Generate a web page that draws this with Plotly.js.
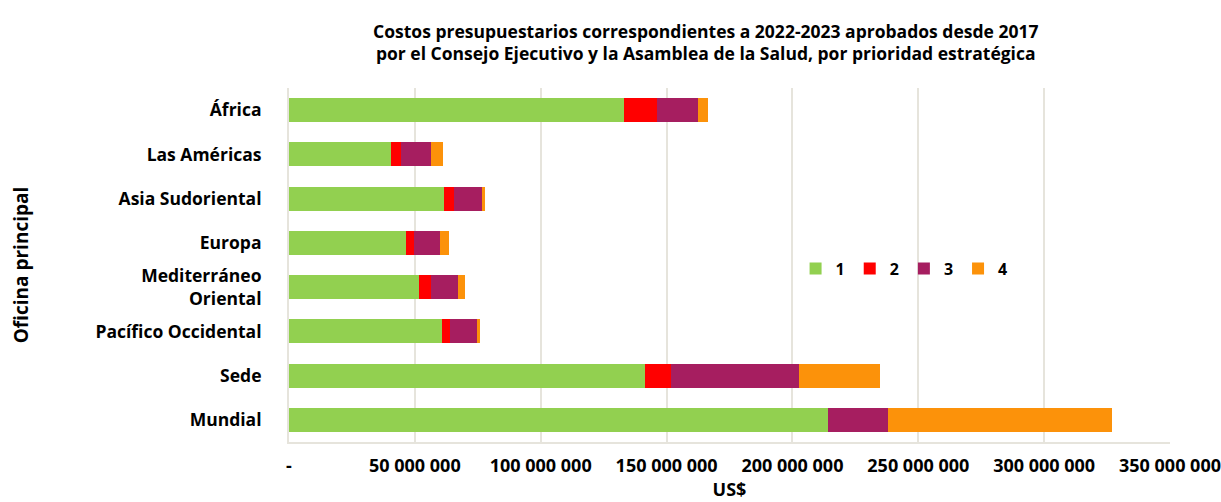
<!DOCTYPE html>
<html>
<head>
<meta charset="utf-8">
<script src="https://cdn.plot.ly/plotly-3.0.1.min.js"></script>
<style>html,body{margin:0;padding:0;background:#fff;}#chart{width:1221px;height:502px;}</style>
</head>
<body>
<div id="chart"></div>
<script>
const categories = ["África", "Las Américas", "Asia Sudoriental", "Europa", "Mediterráneo<br>Oriental", "Pacífico Occidental", "Sede", "Mundial"];
const prioridad1 = [133200000, 40700000, 61400000, 46300000, 51800000, 60700000, 141600000, 214300000];
const prioridad2 = [13000000, 3700000, 4200000, 3300000, 4800000, 3300000, 10200000, 0];
const prioridad3 = [16300000, 12100000, 11000000, 10400000, 10400000, 10500000, 50900000, 23500000];
const prioridad4 = [4100000, 4500000, 1200000, 3700000, 2900000, 1200000, 32100000, 89200000];
const seriesNames = ["1", "2", "3", "4"];
const tickVals = [0, 50000000, 100000000, 150000000, 200000000, 250000000, 300000000, 350000000];
const tickText = ["-", "50 000 000", "100 000 000", "150 000 000", "200 000 000", "250 000 000", "300 000 000", "350 000 000"];

const colors = ["#92D050", "#FF0000", "#A61E60", "#FC920A"];
const seriesData = [prioridad1, prioridad2, prioridad3, prioridad4];
const FONT = "'Open Sans', sans-serif";

const traces = seriesData.map((vals, i) => ({
  type: "bar",
  orientation: "h",
  name: seriesNames[i],
  y: categories,
  x: vals,
  marker: {color: colors[i], line: {width: 0}},
  hoverinfo: "x+name"
}));

const layout = {
  width: 1221, height: 502,
  barmode: "stack",
  bargap: 0.46,
  paper_bgcolor: "#fff", plot_bgcolor: "#fff",
  margin: {l: 289, r: 51, t: 88, b: 60},
  font: {family: FONT, color: "#000", size: 15},
  title: {
    text: "<b>Costos presupuestarios correspondientes a 2022-2023 aprobados desde 2017<br>por el Consejo Ejecutivo y la Asamblea de la Salud, por prioridad estratégica</b>",
    x: 0.578, xanchor: "center", y: 0.925, yanchor: "top",
    font: {family: FONT, size: 17.5, color: "#000"}
  },
  xaxis: {
    range: [0, 350000000],
    tickvals: tickVals, ticktext: tickText,
    tickfont: {family: FONT, size: 18, color: "#000", weight: "bold"},
    ticklabeloverflow: "allow",
    showgrid: true, gridcolor: "#E6E4DC", gridwidth: 2,
    zeroline: false,
    showline: true, linecolor: "#E6E4DC", linewidth: 2,
    ticks: "outside", ticklen: 6, tickcolor: "rgba(0,0,0,0)",
    title: {text: "<b>US$</b>", font: {family: FONT, size: 18, color: "#000"}, standoff: 2}
  },
  yaxis: {
    type: "category",
    autorange: "reversed",
    tickfont: {family: FONT, size: 17.5, color: "#000", weight: "bold"},
    showgrid: false, zeroline: false,
    showline: true, linecolor: "#E6E4DC", linewidth: 2,
    ticks: "outside", ticklen: 22, tickcolor: "rgba(0,0,0,0)",
    title: {text: "<b>Oficina principal</b>", font: {family: FONT, size: 19, color: "#000"}, standoff: 62}
  },
  showlegend: true,
  legend: {
    orientation: "h",
    x: 0.575, xanchor: "left", y: 0.49, yanchor: "middle",
    font: {family: FONT, size: 16, color: "#000", weight: "bold"},
    bgcolor: "rgba(255,255,255,0)",
    itemwidth: 30,
    traceorder: "normal"
  }
};

Plotly.newPlot("chart", traces, layout, {displayModeBar: false, staticPlot: true});
</script>
</body>
</html>
